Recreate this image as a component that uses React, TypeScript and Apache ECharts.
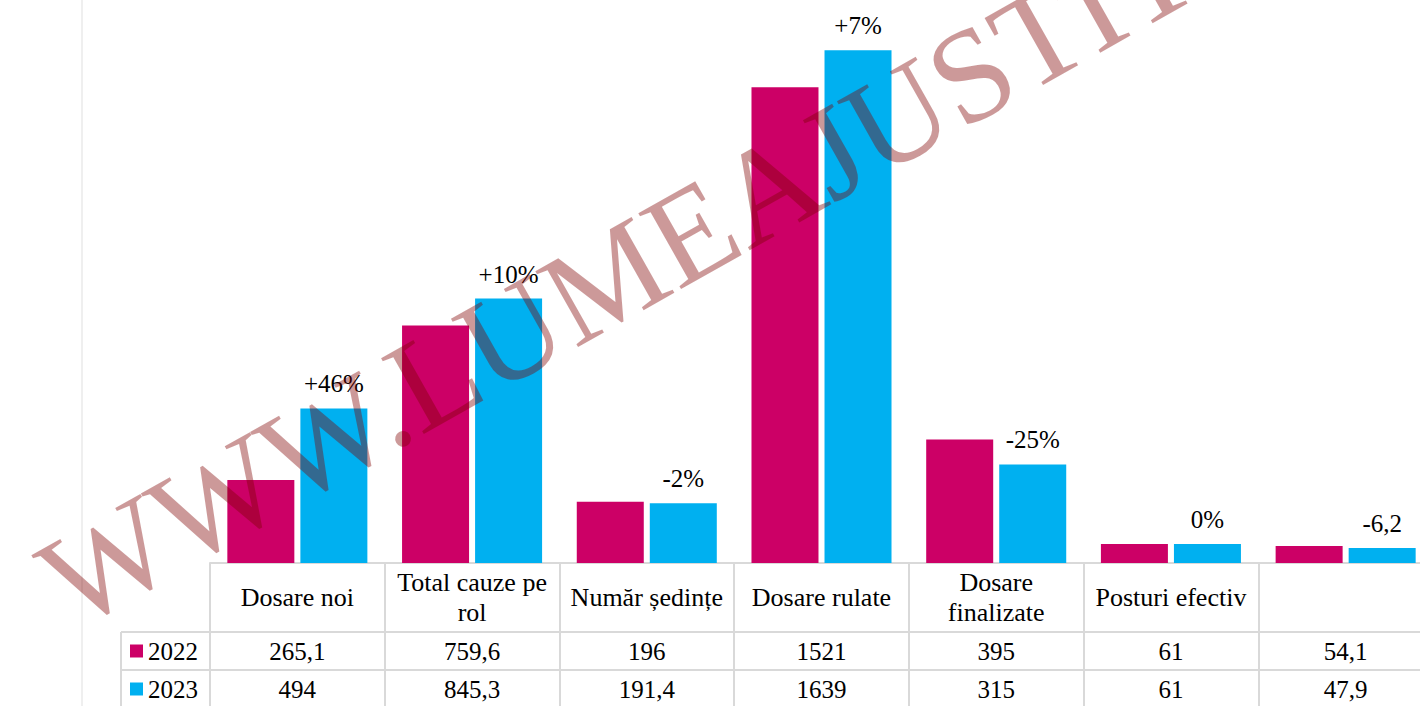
import React, { useEffect, useRef } from "react";
import * as echarts from "echarts";

const categories = [
  "Dosare noi",
  "Total cauze pe rol",
  "Număr ședințe",
  "Dosare rulate",
  "Dosare finalizate",
  "Posturi efectiv",
  "",
];
// header texts as they wrap inside the table cells
const headerLabels = [
  "Dosare noi",
  "Total cauze pe\nrol",
  "Număr ședințe",
  "Dosare rulate",
  "Dosare\nfinalizate",
  "Posturi efectiv",
  "",
];
const seriesNames = ["2022", "2023"];
const values2022 = [265.1, 759.6, 196, 1521, 395, 61, 54.1];
const values2023 = [494, 845.3, 191.4, 1639, 315, 61, 47.9];
const changeLabels = ["+46%", "+10%", "-2%", "+7%", "-25%", "0%", "-6,2"];
const watermarkText = "WWW.LUMEAJUSTITIEI.RO";

const COLOR_2022 = "#CC0066";
const COLOR_2023 = "#00B0F0";
const GRID_LINE = "#D9D9D9";
const FONT = "Liberation Serif";
const FS = 25;
const FS_HEAD = 26;
const CHART_W = 1440;

const fmt = (v: number) => String(v).replace(".", ",");

export default function App() {
  const ref = useRef<HTMLDivElement>(null);

  useEffect(() => {
    if (!ref.current) return;
    const chart = echarts.init(ref.current, undefined, { renderer: "svg" });
    const option: any = {
      animation: false,
      backgroundColor: "#ffffff",
      grid: { left: 210, right: CHART_W - 1433, top: 0, bottom: 143, containLabel: false },
      xAxis: {
        type: "category",
        data: categories,
        axisLine: { show: true, lineStyle: { color: GRID_LINE, width: 2 } },
        axisTick: { show: true, length: 160, lineStyle: { color: GRID_LINE, width: 2 } },
        axisLabel: {
          interval: 0,
          margin: 34,
          verticalAlign: "middle",
          fontFamily: FONT,
          fontSize: FS_HEAD,
          color: "#000",
          lineHeight: 30,
          formatter: (_: string, i: number) => headerLabels[i],
        },
        splitLine: { show: false },
      },
      yAxis: {
        type: "value",
        min: 0,
        max: 1800,
        show: false,
        splitLine: { show: false },
      },
      series: [
        {
          name: seriesNames[0],
          type: "bar",
          data: values2022,
          barWidth: 67,
          barGap: "9%",
          itemStyle: { color: COLOR_2022 },
        },
        {
          name: seriesNames[1],
          type: "bar",
          data: values2023,
          barWidth: 67,
          barGap: "9%",
          itemStyle: { color: COLOR_2023 },
          label: {
            show: true,
            position: "top",
            distance: 12,
            fontFamily: FONT,
            fontSize: FS,
            color: "#000",
            formatter: (p: any) => changeLabels[p.dataIndex],
          },
        },
      ],
    };
    chart.setOption(option);

    const centers = categories.map((_, i) => chart.convertToPixel({ xAxisIndex: 0 }, i) as number);
    const baseY = chart.convertToPixel({ yAxisIndex: 0 }, 0) as number;
    const row1Top = baseY + 69;
    const row2Top = baseY + 107;
    const rowH = 38;
    const tableLeft = 121;
    const tableRight = CHART_W;

    const graphics: any[] = [];
    graphics.push({
      type: "rect",
      shape: { x: 81, y: 0, width: 2, height: 706 },
      style: { fill: "#EFEFEF" },
      z: 0,
    });
    [row1Top, row2Top].forEach((y) =>
      graphics.push({
        type: "line",
        shape: { x1: tableLeft, y1: y, x2: tableRight, y2: y },
        style: { stroke: GRID_LINE, lineWidth: 2 },
      })
    );
    graphics.push({
      type: "line",
      shape: { x1: tableLeft, y1: row1Top, x2: tableLeft, y2: 720 },
      style: { stroke: GRID_LINE, lineWidth: 2 },
    });
    const rows = [
      { name: seriesNames[0], color: COLOR_2022, vals: values2022, top: row1Top },
      { name: seriesNames[1], color: COLOR_2023, vals: values2023, top: row2Top },
    ];
    rows.forEach((r) => {
      const cy = r.top + rowH / 2;
      graphics.push({
        type: "rect",
        shape: { x: 130, y: cy - 6.5, width: 13, height: 13 },
        style: { fill: r.color },
      });
      graphics.push({
        type: "text",
        x: 148,
        y: cy,
        style: {
          text: r.name,
          fontFamily: FONT,
          fontSize: FS,
          fill: "#000",
          align: "left",
          verticalAlign: "middle",
        },
      });
      r.vals.forEach((v, i) => {
        graphics.push({
          type: "text",
          x: centers[i],
          y: cy,
          style: {
            text: fmt(v),
            fontFamily: FONT,
            fontSize: FS,
            fill: "#000",
            align: "center",
            verticalAlign: "middle",
          },
        });
      });
    });
    const ang = (29.4 * Math.PI) / 180;
    graphics.push({
      type: "text",
      x: 52,
      y: 592,
      rotation: ang,
      z: 100,
      style: {
        text: watermarkText,
        fontFamily: FONT,
        fontSize: 133,
        fill: "rgba(128,0,0,0.4)",
        align: "left",
        verticalAlign: "middle",
      },
    });

    chart.setOption({ graphic: graphics });

    return () => chart.dispose();
  }, []);

  return (
    <div style={{ position: "absolute", left: 0, top: 0, width: 1420, height: 706, overflow: "hidden" }}>
      <div ref={ref} style={{ width: CHART_W, height: 706 }} />
    </div>
  );
}
